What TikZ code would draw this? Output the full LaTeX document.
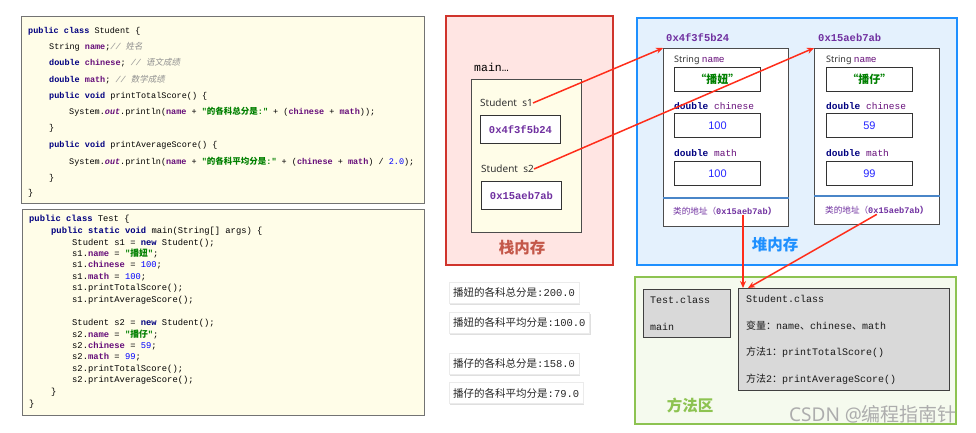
\documentclass[tikz,border=0pt]{standalone}
\usepackage{fontspec}
\setmainfont{Noto Sans}
\setmonofont{Liberation Mono}
\newfontfamily\cjk{Noto Sans CJK SC}
\newfontfamily\cjkit[FakeSlant=0.2]{Noto Sans CJK SC}
\newfontfamily\numfont{Liberation Sans}
\usetikzlibrary{arrows.meta, positioning, shadows}
\usepackage{xcolor}
\definecolor{kwblue}{HTML}{000080}
\definecolor{fldpurple}{HTML}{660E7A}
\definecolor{strgreen}{HTML}{008000}
\definecolor{numblue}{HTML}{0000FF}
\definecolor{cmtgray}{HTML}{909090}
\definecolor{codebg}{HTML}{FFFDE8}
\definecolor{stackred}{HTML}{D0342C}
\definecolor{stackbg}{HTML}{FFE5E3}
\definecolor{stacktxt}{HTML}{C4584A}
\definecolor{heapblue}{HTML}{1E90FF}
\definecolor{heapbg}{HTML}{E4F1FD}
\definecolor{methgreen}{HTML}{8DC351}
\definecolor{methbg}{HTML}{F5FAEE}
\definecolor{addrpurple}{HTML}{7030A0}
\definecolor{arrred}{HTML}{FF2D1A}
\definecolor{clsgray}{HTML}{D9D9D9}
\definecolor{sepblue}{HTML}{4A86C8}
\newcommand\zh[1]{{\cjk #1}}
\newcommand\zhit[1]{{\cjkit #1}}
\newcommand\kw[1]{\textcolor{kwblue}{\bfseries #1}}
\newcommand\fld[1]{\textcolor{fldpurple}{\bfseries #1}}
\newcommand\outf[1]{\textcolor{fldpurple}{\bfseries\itshape #1}}
\newcommand\codestr[1]{\textcolor{strgreen}{\bfseries #1}}
\newcommand\codenum[1]{\textcolor{numblue}{#1}}
\newcommand\cmt[1]{\textcolor{cmtgray}{\itshape #1}}
\tikzset{
  codebox/.style={draw=black!55, fill=codebg, line width=0.8pt},
  codeline/.style={anchor=west, inner sep=0pt, font=\ttfamily\fontsize{8.5}{10}\selectfont},
  testline/.style={anchor=west, inner sep=0pt, font=\ttfamily\fontsize{8.8}{10}\selectfont},
  stackframe/.style={draw=stackred, fill=stackbg, line width=1.8pt},
  heapframe/.style={draw=heapblue, fill=heapbg, line width=1.8pt},
  methframe/.style={draw=methgreen, fill=methbg, line width=1.8pt},
  framelbl/.style={font=\cjk\bfseries\fontsize{15.5}{18}\selectfont},
  objbox/.style={draw=black!70, fill=white, line width=0.9pt, anchor=north west, inner sep=0pt},
  cell/.style={draw=black!80, fill=white, line width=0.9pt, minimum width=86pt,
    minimum height=24pt, inner sep=0pt, anchor=north west},
  refcell/.style={draw=black!80, fill=white, line width=0.9pt, minimum width=80pt,
    minimum height=28pt, inner sep=0pt, anchor=north west,
    font=\ttfamily\bfseries\fontsize{10.5}{12}\selectfont, text=addrpurple},
  fieldlbl/.style={anchor=west, inner sep=0pt, font=\fontsize{9}{11}\selectfont, text=black!80},
  varlbl/.style={anchor=west, inner sep=0pt, font=\fontsize{10}{12}\selectfont, text=black!80},
  addrlbl/.style={anchor=west, inner sep=0pt, font=\fontsize{8.6}{10}\selectfont, text=addrpurple},
  headlbl/.style={anchor=west, inner sep=0pt, font=\ttfamily\bfseries\fontsize{10.5}{12}\selectfont, text=addrpurple},
  valnum/.style={font=\numfont\fontsize{11}{13}\selectfont, text=numblue!85!white},
  valstr/.style={font=\cjk\bfseries\fontsize{11}{13}\selectfont, text=strgreen},
  outbox/.style={fill=white, draw=black!8, anchor=west, inner xsep=4pt, minimum height=21pt,
    font=\ttfamily\fontsize{10.5}{12}\selectfont, text=black!85,
    drop shadow={opacity=0.25, shadow xshift=1pt, shadow yshift=-1.5pt}},
  clsbox/.style={draw=black!75, fill=clsgray, line width=0.9pt, anchor=north west, inner sep=0pt},
  clsline/.style={anchor=west, inner sep=0pt, font=\ttfamily\fontsize{10}{12}\selectfont, text=black!90},
  arr/.style={-{Stealth[length=7pt, width=6pt]}, draw=arrred, line width=1.5pt},
}
\begin{document}
\begin{tikzpicture}[x=1pt, y=-1pt]
  \fill[white] (0,0) rectangle (976,433);
  \useasboundingbox (0,0) rectangle (976,433);

  % Student source
  \draw[codebox] (21,16) rectangle (424,203);
  \node[codeline] (stu1) at (28,31) {\kw{public class} Student \{};
  \node[codeline] (stu2) at (49,47) {String \fld{name};\cmt{// \zhit{姓名}}};
  \node[codeline] (stu3) at (49,63) {\kw{double} \fld{chinese}; \cmt{// \zhit{语文成绩}}};
  \node[codeline] (stu4) at (49,80) {\kw{double} \fld{math}; \cmt{// \zhit{数学成绩}}};
  \node[codeline] (stu5) at (49,96) {\kw{public void} printTotalScore() \{};
  \node[codeline] (stu6) at (69,112) {System.\outf{out}.println(\fld{name} + \codestr{"\zh{的各科总分是}:"} + (\fld{chinese} + \fld{math}));};
  \node[codeline] (stu7) at (49,128) {\}};
  \node[codeline] (stu8) at (49,145) {\kw{public void} printAverageScore() \{};
  \node[codeline] (stu9) at (69,162) {System.\outf{out}.println(\fld{name} + \codestr{"\zh{的各科平均分是}:"} + (\fld{chinese} + \fld{math}) / \codenum{2.0});};
  \node[codeline] (stu10) at (49,178) {\}};
  \node[codeline] (stu11) at (28,193) {\}};

  % Test source
  \draw[codebox] (22,209) rectangle (424,415);
  \node[testline] (tst1) at (29,219) {\kw{public class} Test \{};
  \node[testline] (tst2) at (51,231) {\kw{public static void} main(String[] args) \{};
  \node[testline] (tst3) at (72,243) {Student s1 = \kw{new} Student();};
  \node[testline] (tst4) at (72,254) {s1.\fld{name} = \codestr{"\zh{播妞}"};};
  \node[testline] (tst5) at (72,265) {s1.\fld{chinese} = \codenum{100};};
  \node[testline] (tst6) at (72,277) {s1.\fld{math} = \codenum{100};};
  \node[testline] (tst7) at (72,288) {s1.printTotalScore();};
  \node[testline] (tst8) at (72,300) {s1.printAverageScore();};
  \node[testline] (tst9) at (72,323) {Student s2 = \kw{new} Student();};
  \node[testline] (tst10) at (72,335) {s2.\fld{name} = \codestr{"\zh{播仔}"};};
  \node[testline] (tst11) at (72,346) {s2.\fld{chinese} = \codenum{59};};
  \node[testline] (tst12) at (72,357) {s2.\fld{math} = \codenum{99};};
  \node[testline] (tst13) at (72,369) {s2.printTotalScore();};
  \node[testline] (tst14) at (72,380) {s2.printAverageScore();};
  \node[testline] (tst15) at (51,392) {\}};
  \node[testline] (tst16) at (29,404) {\}};

  % Stack
  \draw[stackframe] (446,16) rectangle (613,265);
  \node[anchor=west, inner sep=0pt, font=\ttfamily\fontsize{11.5}{13}\selectfont] (mainlbl) at (474,67) {main…};
  \draw[codebox, draw=black!70] (471,79) rectangle (581,232);
  \node[varlbl] (s1lbl) at (480,103) {Student~~s1};
  \node[refcell] (s1ref) at (480,115) {0x4f3f5b24};
  \node[varlbl] (s2lbl) at (481,169) {Student~~s2};
  \node[refcell] (s2ref) at (481,181) {0x15aeb7ab};
  \node[framelbl, text=stacktxt] (stacklbl) at (522,248) {栈内存};

  % Heap
  \draw[heapframe] (637,18) rectangle (957,265);
  \node[headlbl] (obj1head) at (666,38) {0x4f3f5b24};
  \node[headlbl] (obj2head) at (818,38) {0x15aeb7ab};
  \node[objbox, minimum width=125pt, minimum height=178pt] (obj1) at (663,48) {};
  \node[objbox, minimum width=125pt, minimum height=176pt] (obj2) at (814,48) {};
  \draw[sepblue, line width=1.6pt] ([yshift=29pt]obj1.south west) -- ([yshift=29pt]obj1.south east);
  \draw[sepblue, line width=1.6pt] ([yshift=29pt]obj2.south west) -- ([yshift=29pt]obj2.south east);

  \node[fieldlbl] (name1lbl) at (674,60) {String \textcolor{fldpurple}{\ttfamily\fontsize{9.5}{11}\selectfont name}};
  \node[cell, valstr] (name1) at (674,67) {“播妞”};
  \node[fieldlbl] (chi1lbl) at (674,106) {\ttfamily\fontsize{9.5}{11}\selectfont\kw{double} \textcolor{fldpurple}{chinese}};
  \node[cell, valnum] (chi1) at (674,113) {100};
  \node[fieldlbl] (math1lbl) at (674,153) {\ttfamily\fontsize{9.5}{11}\selectfont\kw{double} \textcolor{fldpurple}{math}};
  \node[cell, valnum] (math1) at (674,161) {100};
  \node[addrlbl] (addr1) at (673,211) {\zh{类的地址（}\ttfamily\bfseries 0x15aeb7ab\zh{）}};

  \node[fieldlbl] (name2lbl) at (826,60) {String \textcolor{fldpurple}{\ttfamily\fontsize{9.5}{11}\selectfont name}};
  \node[cell, valstr] (name2) at (826,67) {“播仔”};
  \node[fieldlbl] (chi2lbl) at (826,106) {\ttfamily\fontsize{9.5}{11}\selectfont\kw{double} \textcolor{fldpurple}{chinese}};
  \node[cell, valnum] (chi2) at (826,113) {59};
  \node[fieldlbl] (math2lbl) at (826,153) {\ttfamily\fontsize{9.5}{11}\selectfont\kw{double} \textcolor{fldpurple}{math}};
  \node[cell, valnum] (math2) at (826,161) {99};
  \node[addrlbl] (addr2) at (825,210) {\zh{类的地址（}\ttfamily\bfseries 0x15aeb7ab\zh{）}};
  \node[framelbl, text=heapblue] (heaplbl) at (775,245) {堆内存};

  % Console output
  \node[outbox] (out1) at (449,292.5) {\zh{播妞的各科总分是}:200.0};
  \node[outbox] (out2) at (449,322.5) {\zh{播妞的各科平均分是}:100.0};
  \node[outbox] (out3) at (449,363.5) {\zh{播仔的各科总分是}:158.0};
  \node[outbox] (out4) at (449,393) {\zh{播仔的各科平均分是}:79.0};

  % Method area
  \draw[methframe] (635,277) rectangle (956,424);
  \node[clsbox, minimum width=87pt, minimum height=48pt] (tcls) at (643,289) {};
  \node[clsline] (tclsname) at (650,300) {Test.class};
  \node[clsline] (tclsmain) at (650,327) {main};
  \node[clsbox, minimum width=211pt, minimum height=102pt] (scls) at (738,288) {};
  \node[clsline] (sclsname) at (746,299) {Student.class};
  \node[clsline] (sclsvar) at (746,326) {\zh{变量：}name\zh{、}chinese\zh{、}math};
  \node[clsline] (sclsm1) at (746,352) {\zh{方法}1\zh{：}printTotalScore()};
  \node[clsline] (sclsm2) at (746,379) {\zh{方法}2\zh{：}printAverageScore()};
  \node[framelbl, text=methgreen] (methlbl) at (690,406) {方法区};
  \node[font=\fontsize{19}{22}\selectfont, text=black!32, anchor=west, inner sep=0pt] (mark) at (789,414) {CSDN @\zh{编程指南针}};

  % References
  \coordinate (in1) at ([xshift=5pt]scls.north west);
  \coordinate (in2) at ([xshift=10pt]scls.north west);
  \draw[arr] (s1lbl.east) -- (obj1.north west);
  \draw[arr] (s2lbl.east) -- (obj2.north west);
  \draw[arr] (addr1.south -| in1) -- (in1);
  \draw[arr] (addr2.south) -- (in2);
\end{tikzpicture}
\end{document}
